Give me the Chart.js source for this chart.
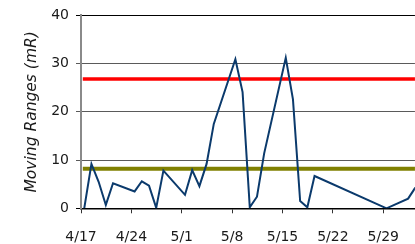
<!DOCTYPE html>
<html>
<head>
<meta charset="utf-8">
<script src="https://cdn.jsdelivr.net/npm/chart.js@4/dist/chart.umd.min.js"></script>
<style>
  html, body { margin: 0; padding: 0; background: #fff; }
  #wrap { width: 415px; height: 244px; position: relative; }
</style>
</head>
<body>
<div id="wrap"><canvas id="c"></canvas></div>
<script>
// Days counted from 4/17 (weekday sampling)
const sampleDays = [0,1,2,3,4, 7,8,9,10,11, 14,15,16,17,18, 21,22,23,24,25, 28,29,30,31,32, 42,45,46];
const movingRanges = [0,9.2,5.5,0.7,5.2, 3.5,5.6,4.7,0.1,7.8, 2.8,7.9,4.6,9.2,17.5, 30.9,24.1,0.2,2.4,11.4, 31.2,22.6,1.5,0.2,6.7, 0,2.0,4.3];
const timeOfDay = 0.45;
const upperLimit = 26.8;
const averageMR = 8.2;
const tickDays = [0,7,14,21,28,35,42];
const tickLabels = ['4/17','4/24','5/1','5/8','5/15','5/22','5/29'];
const xMax = 46.4;

const mrPoints = sampleDays.map((d, i) => ({ x: d + timeOfDay, y: movingRanges[i] }));
const firstX = sampleDays[0] + timeOfDay - 0.2;
const lastX = xMax + 1;

new Chart(document.getElementById('c'), {
  type: 'line',
  data: {
    datasets: [
      { data: mrPoints, borderColor: '#0b3a6c', borderWidth: 2, pointRadius: 0, tension: 0, order: 0 },
      { data: [{x: firstX, y: upperLimit}, {x: lastX, y: upperLimit}], borderColor: '#ff0000', borderWidth: 3.5, pointRadius: 0, order: 1 },
      { data: [{x: firstX, y: averageMR}, {x: lastX, y: averageMR}], borderColor: '#808000', borderWidth: 4, pointRadius: 0, order: 2 }
    ]
  },
  options: {
    responsive: true,
    maintainAspectRatio: false,
    animation: false,
    events: [],
    layout: { padding: { top: 15, right: 0, bottom: 0, left: 0 } },
    plugins: { legend: { display: false }, tooltip: { enabled: false } },
    scales: {
      x: {
        type: 'linear',
        min: 0,
        max: xMax,
        afterBuildTicks: (s) => { s.ticks = tickDays.map(v => ({ value: v })); },
        afterFit: (s) => { s.height = 35.7; },
        ticks: {
          autoSkip: false, maxRotation: 0, padding: 16,
          color: '#1a1a1a',
          font: { family: 'DejaVu Sans', size: 14 },
          callback: (v) => { const i = tickDays.indexOf(v); return i >= 0 ? tickLabels[i] : ''; }
        },
        grid: { drawOnChartArea: false, drawTicks: true, tickLength: 5, color: '#333' },
        border: { color: '#000', width: 1.5 }
      },
      y: {
        min: 0, max: 40,
        afterFit: (s) => { s.width = 81; },
        ticks: {
          stepSize: 10, padding: 7, color: '#1a1a1a',
          font: { family: 'DejaVu Sans', size: 14 }
        },
        grid: {
          tickLength: 5,
          color: (ctx) => (ctx.tick && (ctx.tick.value === 40 || ctx.tick.value === 0)) ? '#000' : '#5a5a5a',
          lineWidth: 1
        },
        border: { color: '#8a8a8a', width: 2 },
        title: {
          display: true,
          text: 'Moving Ranges (mR)',
          color: '#1a1a1a',
          font: { family: 'DejaVu Sans', size: 15.5, style: 'italic' },
          padding: { top: 23, bottom: 0 }
        }
      }
    }
  }
});
</script>
</body>
</html>
